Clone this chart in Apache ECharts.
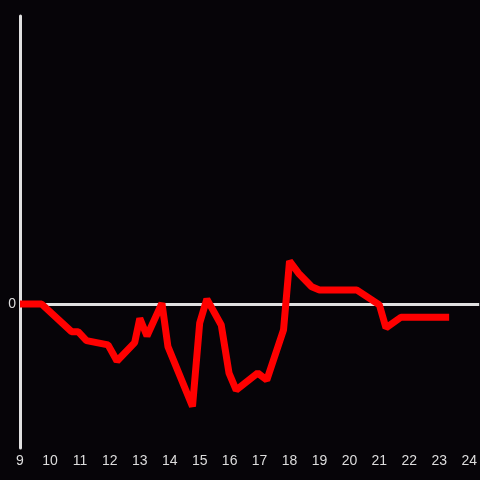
<!DOCTYPE html>
<html>
<head>
<meta charset="utf-8">
<script src="https://cdn.jsdelivr.net/npm/echarts@6/dist/echarts.min.js"></script>
<style>
  html, body { margin: 0; padding: 0; background: #060408; }
  #main { width: 480px; height: 480px; }
</style>
</head>
<body>
<div id="main"></div>
<script>
var hours = [9, 9.72, 10.72, 10.94, 11.22, 11.94, 12.24, 12.83, 13.0, 13.24, 13.74, 13.94,
             14.76, 15.0, 15.24, 15.72, 15.98, 16.22, 16.94, 17.24, 17.8, 18.0, 18.3,
             18.74, 19.0, 20.24, 21.0, 21.22, 21.72, 23.33];
var values = [0, 0, -9.6, -9.6, -12.7, -14.2, -19.8, -13.4, -5.0, -11.1, 0.3, -14.8,
              -35.6, -6.6, 1.7, -7.3, -24, -29.9, -24, -26.4, -9.0, 14.9, 10.7,
              6.0, 4.9, 4.9, -0.3, -8.3, -4.6, -4.6];

var points = hours.map(function (h, i) { return [h, values[i]]; });

var dom = document.getElementById('main');
var myChart = echarts.init(dom);

var option = {
  backgroundColor: '#060408',
  animation: false,
  grid: { left: 20, right: 0, top: 16, bottom: 32 },
  xAxis: {
    type: 'value',
    min: 9,
    max: 24.333,
    interval: 1,
    axisLine: { show: false },
    axisTick: { show: false },
    splitLine: { show: false },
    axisLabel: {
      color: '#dddddd',
      fontSize: 14,
      margin: 6,
      showMaxLabel: false,
      formatter: function (v) { return Number.isInteger(v) ? String(v) : ''; }
    }
  },
  yAxis: {
    type: 'value',
    min: -50,
    max: 100,
    interval: 50,
    axisLine: { show: true, onZero: false, lineStyle: { color: '#e0e0e0', width: 3 } },
    axisTick: { show: false },
    splitLine: { show: false },
    axisLabel: {
      color: '#dddddd',
      fontSize: 14,
      margin: 4,
      formatter: function (v) { return v === 0 ? '0' : ''; }
    }
  },
  series: [{
    type: 'line',
    data: points,
    showSymbol: false,
    lineStyle: { color: '#ff0000', width: 7 },
    z: 3,
    markLine: {
      silent: true,
      symbol: ['none', 'none'],
      label: { show: false },
      lineStyle: { color: '#e0e0e0', width: 3, type: 'solid' },
      data: [{ yAxis: 0 }],
      z: 1
    }
  }]
};

myChart.setOption(option);
window.onresize = function () { myChart.resize(); };
</script>
</body>
</html>
